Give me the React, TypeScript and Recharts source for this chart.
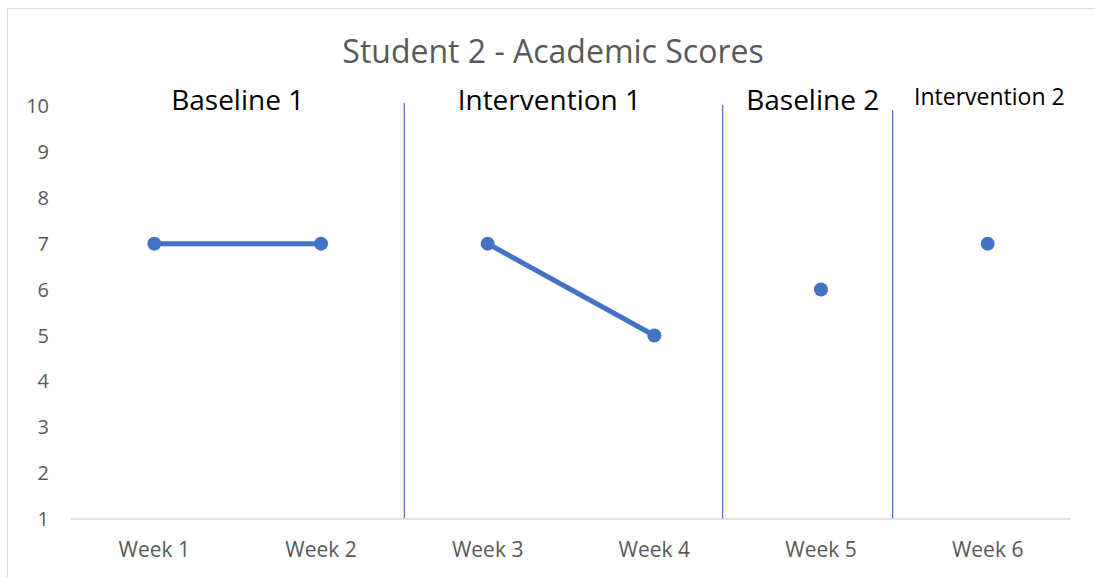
import React from 'react';
import { LineChart, Line, XAxis, YAxis, ReferenceLine, ReferenceDot } from 'recharts';

const weeks = [1, 2, 3, 4, 5, 6];
const weekLabels = ['Week 1', 'Week 2', 'Week 3', 'Week 4', 'Week 5', 'Week 6'];
const baseline1 = [7, 7, null, null, null, null];
const intervention1 = [null, null, 7, 5, null, null];
const baseline2 = [null, null, null, null, 6, null];
const intervention2 = [null, null, null, null, null, 7];
const yTicks = [1, 2, 3, 4, 5, 6, 7, 8, 9, 10];
const phaseLines = [
  { x: 2.5, top: 10.07 },
  { x: 4.41, top: 10.02 },
  { x: 5.43, top: 9.91 },
];
const phaseLabels = [
  { text: 'Baseline 1', x: 1.5, y: 10.13, size: 28 },
  { text: 'Intervention 1', x: 3.37, y: 10.13, size: 28 },
  { text: 'Baseline 2', x: 4.95, y: 10.13, size: 28 },
  { text: 'Intervention 2', x: 6.01, y: 10.2, size: 23 },
];

const data = weeks.map((w, i) => ({
  week: w,
  b1: baseline1[i],
  i1: intervention1[i],
  b2: baseline2[i],
  i2: intervention2[i],
}));

const BLUE = '#4472C4';
const FONT = '"Open Sans", Lato, sans-serif';

export default function App() {
  return (
    <div style={{ position: 'absolute', left: 0, top: 0, width: 1095, height: 577, background: '#fff', overflow: 'hidden', fontFamily: FONT }}>
      <div style={{ position: 'absolute', left: 7, top: 8, width: 1200, height: 700, borderLeft: '1.5px solid #d9d9d9', borderTop: '1.5px solid #d9d9d9' }} />
      <div style={{ position: 'absolute', left: 0, top: 31, width: 1106, textAlign: 'center', fontSize: 32, lineHeight: '40px', color: '#595959', fontFamily: FONT }}>
        Student 2 - Academic Scores
      </div>
      <div style={{ position: 'absolute', left: 0, top: 0 }}>
        <LineChart width={1095} height={577} data={data} margin={{ top: 106, right: 24, bottom: 0, left: 0 }}>
          <XAxis
            dataKey="week"
            type="number"
            domain={[0.5, 6.5]}
            ticks={weeks}
            tickFormatter={(v: number) => weekLabels[v - 1]}
            height={58}
            tickSize={0}
            tickMargin={23}
            axisLine={{ stroke: '#d9d9d9', strokeWidth: 1.5 }}
            tickLine={false}
            tick={{ fill: '#595959', fontSize: 21, fontFamily: FONT }}
          />
          <YAxis
            domain={[1, 10]}
            ticks={yTicks}
            width={71}
            tickSize={0}
            tickMargin={22}
            axisLine={false}
            tickLine={false}
            tick={{ fill: '#595959', fontSize: 20, fontFamily: FONT }}
          />
          {phaseLines.map((p, i) => (
            <ReferenceLine
              key={i}
              segment={[{ x: p.x, y: 1 }, { x: p.x, y: p.top }]}
              stroke={BLUE}
              strokeWidth={1.2}
              ifOverflow="visible"
            />
          ))}
          {phaseLabels.map((p, i) => (
            <ReferenceDot
              key={'l' + i}
              x={p.x}
              y={p.y}
              r={0}
              fill="none"
              stroke="none"
              ifOverflow="visible"
              label={{ value: p.text, position: 'center', fill: '#000', fontSize: p.size, fontFamily: FONT }}
            />
          ))}
          {['b1', 'i1', 'b2', 'i2'].map((k) => (
            <Line
              key={k}
              dataKey={k}
              stroke={BLUE}
              strokeWidth={5}
              dot={{ r: 7, fill: BLUE, stroke: BLUE, strokeWidth: 0 }}
              activeDot={false}
              connectNulls={false}
              isAnimationActive={false}
            />
          ))}
        </LineChart>
      </div>
    </div>
  );
}
